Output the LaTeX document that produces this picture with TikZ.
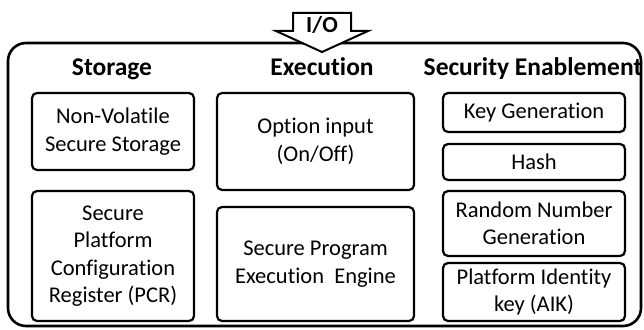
\documentclass[tikz,border=0pt]{standalone}
\usepackage{fontspec}
\setmainfont{Carlito}[Ligatures=NoCommon]
\begin{document}
\begin{tikzpicture}[x=1pt,y=-1pt,
  box/.style={draw=black, line width=2.2pt, rounded corners=5pt, fill=white,
    align=center, inner sep=0pt, font=\fontsize{22.5}{27.5}\selectfont},
  head/.style={font=\fontsize{25.5}{30}\selectfont\bfseries, anchor=base},
  outerbox/.style={draw=black, line width=2.6pt, rounded corners=18pt},
  ioarrow/.style={draw=black, line width=2pt, fill=white, line join=miter}]
\useasboundingbox (0,0) rectangle (644,329);
\draw[outerbox] (8,43) rectangle (641,326);
\draw[ioarrow] (293,13) -- (351,13) -- (351,31) -- (368,31) -- (322,52) -- (276,31) -- (293,31) -- cycle;
\node[font=\fontsize{23}{28}\selectfont\bfseries, anchor=base, inner sep=0pt] (io) at (322,33) {I/O};
\node[head] (hsto) at (112,75) {Storage};
\node[head] (hexe) at (322,75) {Execution};
\node[head] (hsec) at (533,75) {Security Enablement};
\node[box, minimum width=162pt, minimum height=77pt] (sto1) at (113,131.5) {Non-Volatile\\Secure Storage};
\node[box, minimum width=162pt, minimum height=130pt] (sto2) at (113,256) {Secure\\Platform\\Configuration\\Register (PCR)};
\node[box, minimum width=197pt, minimum height=97pt] (exe1) at (315.5,141.5) {Option input\\(On/Off)};
\node[box, minimum width=197pt, minimum height=114pt] (exe2) at (315.5,264) {Secure Program\\Execution~~Engine};
\node[box, minimum width=182pt, minimum height=39pt] (sec1) at (534,112.5) {Key Generation};
\node[box, minimum width=182pt, minimum height=36pt] (sec2) at (534,162) {Hash};
\node[box, minimum width=182pt, minimum height=65pt] (sec3) at (534,223.5) {Random Number\\Generation};
\node[box, minimum width=182pt, minimum height=58pt] (sec4) at (534,292) {Platform Identity\\key (AIK)};
\end{tikzpicture}
\end{document}
